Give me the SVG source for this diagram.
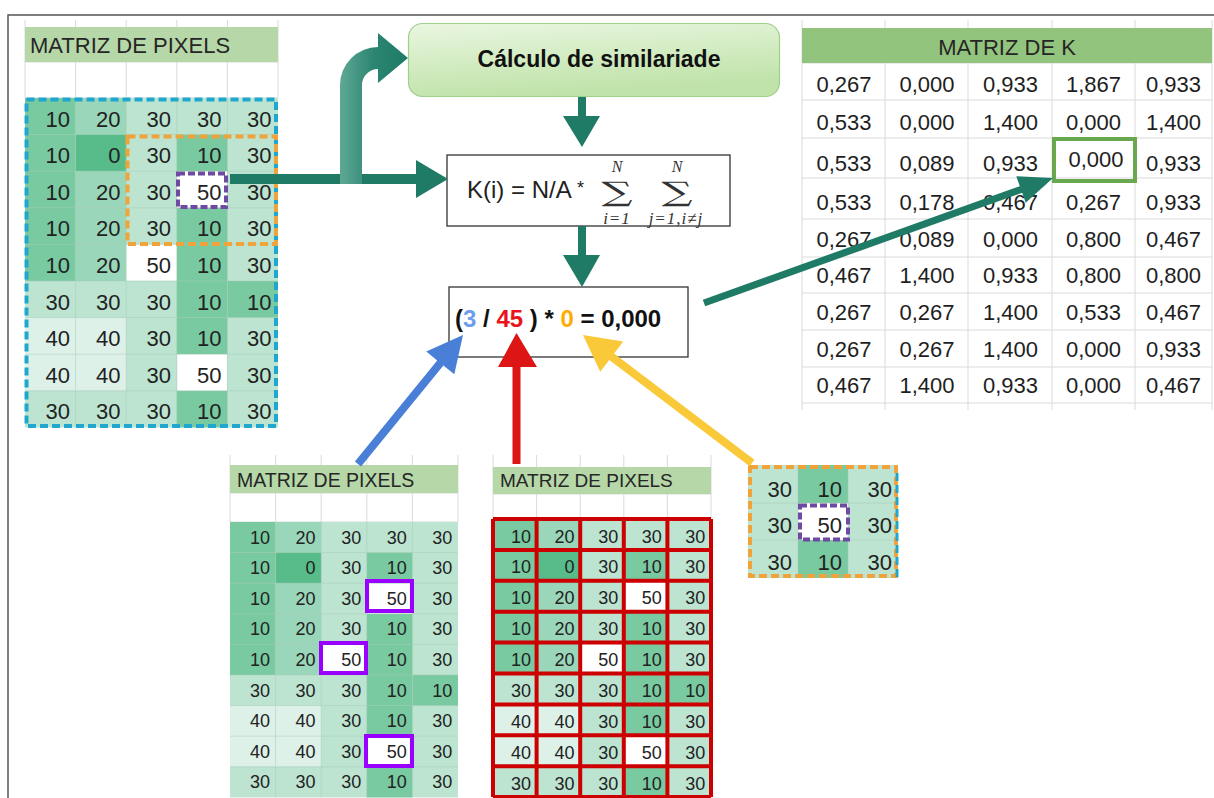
<svg xmlns="http://www.w3.org/2000/svg" xmlns:xlink="http://www.w3.org/1999/xlink" width="1214" height="798" viewBox="0 0 1214 798">
<style>
.c0{fill:#57bb8a}.c10{fill:#79c9a1}.c20{fill:#9ad6b9}.c30{fill:#bce4d0}.c40{fill:#ddf1e8}.c50{fill:#ffffff}
.grid{fill:none;stroke:#a9cdb9;stroke-width:1;stroke-opacity:.55}
.gray{fill:none;stroke:#dadada;stroke-width:1}
.n22{font-family:"Liberation Sans",Arial,sans-serif;font-size:22px;fill:#222;text-anchor:end}
.n18{font-family:"Liberation Sans",Arial,sans-serif;font-size:18px;fill:#222;text-anchor:end}
.k22{font-family:"Liberation Sans",Arial,sans-serif;font-size:22px;fill:#1e1e1e;text-anchor:middle}
.hdr{font-family:"Liberation Sans",Arial,sans-serif;fill:#262626}
.hdrbg{fill:#b6d7a8}
.box{fill:#fff;stroke:#333;stroke-width:1.3}
.math{font-family:"Liberation Serif","DejaVu Serif",serif;fill:#333;font-style:italic}
.sig{font-family:"DejaVu Serif",serif;font-size:27px;fill:#333;text-anchor:middle}
.teal{fill:#1f7b66}
</style>
<defs>
<g id="pxfill">
<rect class="c30" x="0" y="0" width="5" height="9"/>
<rect class="c10" x="0" y="0" width="1" height="5"/>
<rect class="c20" x="1" y="0" width="1" height="5"/>
<rect class="c0" x="1" y="1" width="1" height="1"/>
<rect class="c10" x="3" y="1" width="1" height="8"/>
<rect class="c50" x="3" y="2" width="1" height="1"/>
<rect class="c50" x="3" y="7" width="1" height="1"/>
<rect class="c50" x="2" y="4" width="1" height="1"/>
<rect class="c10" x="4" y="5" width="1" height="1"/>
<rect class="c40" x="0" y="6" width="2" height="2"/>
</g>
<path id="pxgrid" d="M1 0V9M2 0V9M3 0V9M4 0V9M0 1H5M0 2H5M0 3H5M0 4H5M0 5H5M0 6H5M0 7H5M0 8H5" vector-effect="non-scaling-stroke"/>
<linearGradient id="calcg" x1="0" y1="0" x2="0.3" y2="1">
<stop offset="0" stop-color="#eaf6e1"/>
<stop offset="1" stop-color="#bfe3a8"/>
</linearGradient>
<linearGradient id="bendg" x1="0" y1="0" x2="1" y2="0">
<stop offset="0" stop-color="#5ea895"/>
<stop offset="0.5" stop-color="#2b8570"/>
<stop offset="1" stop-color="#1f7b66"/>
</linearGradient>
</defs>

<path d="M8 798V15H1214" fill="none" stroke="#555" stroke-width="1.5"/>

<g id="matrix-pixels-main">
<path class="gray" d="M25 20V98M75.6 20V98M126.2 20V98M176.8 20V98M227.4 20V98M278 20V98M25 62H278M25 98H278"/>
<rect class="hdrbg" x="25" y="27" width="253" height="35"/>
<text class="hdr" x="30" y="53" font-size="22">MATRIZ DE PIXELS</text>
<use xlink:href="#pxfill" transform="translate(25,98) scale(50.6,36.6)"/>
<use xlink:href="#pxgrid" class="grid" transform="translate(25,98) scale(50.6,36.6)"/>
<text class="n22" y="126.5"><tspan x="70">10</tspan><tspan x="120.5">20</tspan><tspan x="171">30</tspan><tspan x="221.5">30</tspan><tspan x="271.5">30</tspan></text>
<text class="n22" y="163.1"><tspan x="70">10</tspan><tspan x="120.5">0</tspan><tspan x="171">30</tspan><tspan x="221.5">10</tspan><tspan x="271.5">30</tspan></text>
<text class="n22" y="199.7"><tspan x="70">10</tspan><tspan x="120.5">20</tspan><tspan x="171">30</tspan><tspan x="221.5">50</tspan><tspan x="271.5">30</tspan></text>
<text class="n22" y="236.3"><tspan x="70">10</tspan><tspan x="120.5">20</tspan><tspan x="171">30</tspan><tspan x="221.5">10</tspan><tspan x="271.5">30</tspan></text>
<text class="n22" y="272.9"><tspan x="70">10</tspan><tspan x="120.5">20</tspan><tspan x="171">50</tspan><tspan x="221.5">10</tspan><tspan x="271.5">30</tspan></text>
<text class="n22" y="309.5"><tspan x="70">30</tspan><tspan x="120.5">30</tspan><tspan x="171">30</tspan><tspan x="221.5">10</tspan><tspan x="271.5">10</tspan></text>
<text class="n22" y="346.1"><tspan x="70">40</tspan><tspan x="120.5">40</tspan><tspan x="171">30</tspan><tspan x="221.5">10</tspan><tspan x="271.5">30</tspan></text>
<text class="n22" y="382.7"><tspan x="70">40</tspan><tspan x="120.5">40</tspan><tspan x="171">30</tspan><tspan x="221.5">50</tspan><tspan x="271.5">30</tspan></text>
<text class="n22" y="419.3"><tspan x="70">30</tspan><tspan x="120.5">30</tspan><tspan x="171">30</tspan><tspan x="221.5">10</tspan><tspan x="271.5">30</tspan></text>
<rect x="26.5" y="99.5" width="249.5" height="326.5" fill="none" stroke="#1fa7cf" stroke-width="4" stroke-dasharray="8 4"/>
<rect x="127.5" y="136.5" width="148.5" height="107.5" fill="none" stroke="#f0a33a" stroke-width="4" stroke-dasharray="8 4"/>
<rect x="178" y="173.5" width="48" height="33.5" fill="none" stroke="#6f4aa2" stroke-width="4" stroke-dasharray="7 3"/>
</g>

<g id="calc-box">
<rect x="408.5" y="23.5" width="371" height="73" rx="14" fill="url(#calcg)" stroke="#9fd08a" stroke-width="1.2"/>
<text x="599" y="67" font-family="Liberation Sans, Arial, sans-serif" font-size="23" font-weight="bold" fill="#111" text-anchor="middle">Cálculo de similariade</text>
</g>

<g id="formula-box">
<rect class="box" x="447" y="155" width="283" height="71"/>
<text x="467" y="198" font-family="Liberation Sans, Arial, sans-serif" font-size="24" fill="#222">K(i) = N/A <tspan font-size="18" dy="-4">*</tspan></text>
<text class="math" x="617" y="172" font-size="16" text-anchor="middle">N</text>
<text class="sig" x="617" y="201" textLength="31" lengthAdjust="spacingAndGlyphs">∑</text>
<text class="math" x="617" y="224" font-size="17" text-anchor="middle" letter-spacing="1">i=1</text>
<text class="math" x="677" y="172" font-size="16" text-anchor="middle">N</text>
<text class="sig" x="677" y="201" textLength="31" lengthAdjust="spacingAndGlyphs">∑</text>
<text class="math" x="676" y="224" font-size="17" text-anchor="middle" letter-spacing="1">j=1,i≠j</text>
</g>

<g id="result-box">
<rect class="box" x="449" y="287" width="239" height="70"/>
<text x="455" y="327" font-family="Liberation Sans, Arial, sans-serif" font-size="24" font-weight="bold" fill="#111">(<tspan fill="#6d9eeb">3</tspan> / <tspan fill="#e8141b">45</tspan> ) * <tspan fill="#ffab00">0</tspan> = 0,000</text>
</g>

<g id="matrix-k">
<path class="gray" d="M802 20V410M885 20V410M968 20V410M1052 20V410M1135 20V410M1212 20V410M802 63H1212M802 100H1212M802 138H1212M802 178H1212M802 219H1212M802 257H1212M802 293H1212M802 330H1212M802 367H1212M802 403H1212"/>
<rect x="802" y="28" width="410" height="35" fill="#93c47d"/>
<text class="hdr" x="1007" y="55" font-size="22" text-anchor="middle">MATRIZ DE K</text>
<text class="k22" y="92"><tspan x="844">0,267</tspan><tspan x="927">0,000</tspan><tspan x="1010.5">0,933</tspan><tspan x="1093.5">1,867</tspan><tspan x="1173.5">0,933</tspan></text>
<text class="k22" y="130"><tspan x="844">0,533</tspan><tspan x="927">0,000</tspan><tspan x="1010.5">1,400</tspan><tspan x="1093.5">0,000</tspan><tspan x="1173.5">1,400</tspan></text>
<text class="k22" y="171"><tspan x="844">0,533</tspan><tspan x="927">0,089</tspan><tspan x="1010.5">0,933</tspan><tspan x="1173.5">0,933</tspan></text>
<text class="k22" x="1096" y="167">0,000</text>
<text class="k22" y="210"><tspan x="844">0,533</tspan><tspan x="927">0,178</tspan><tspan x="1010.5">0,467</tspan><tspan x="1093.5">0,267</tspan><tspan x="1173.5">0,933</tspan></text>
<text class="k22" y="247"><tspan x="844">0,267</tspan><tspan x="927">0,089</tspan><tspan x="1010.5">0,000</tspan><tspan x="1093.5">0,800</tspan><tspan x="1173.5">0,467</tspan></text>
<text class="k22" y="283"><tspan x="844">0,467</tspan><tspan x="927">1,400</tspan><tspan x="1010.5">0,933</tspan><tspan x="1093.5">0,800</tspan><tspan x="1173.5">0,800</tspan></text>
<text class="k22" y="320"><tspan x="844">0,267</tspan><tspan x="927">0,267</tspan><tspan x="1010.5">1,400</tspan><tspan x="1093.5">0,533</tspan><tspan x="1173.5">0,467</tspan></text>
<text class="k22" y="357"><tspan x="844">0,267</tspan><tspan x="927">0,267</tspan><tspan x="1010.5">1,400</tspan><tspan x="1093.5">0,000</tspan><tspan x="1173.5">0,933</tspan></text>
<text class="k22" y="393"><tspan x="844">0,467</tspan><tspan x="927">1,400</tspan><tspan x="1010.5">0,933</tspan><tspan x="1093.5">0,000</tspan><tspan x="1173.5">0,467</tspan></text>
<rect x="1054" y="139" width="81" height="42" fill="none" stroke="#6aa84f" stroke-width="4"/>
</g>

<g id="matrix-pixels-blue">
<path class="gray" d="M230 455V522M275.6 455V522M321.2 455V522M366.8 455V522M412.4 455V522M458 455V522M230 493H458M230 522H458"/>
<rect class="hdrbg" x="230" y="465" width="228" height="28"/>
<text class="hdr" x="237" y="487" font-size="19.5">MATRIZ DE PIXELS</text>
<use xlink:href="#pxfill" transform="translate(230,522) scale(45.6,30.6)"/>
<use xlink:href="#pxgrid" class="grid" transform="translate(230,522) scale(45.6,30.6)"/>
<text class="n18" y="543.5"><tspan x="270">10</tspan><tspan x="315.6">20</tspan><tspan x="361.2">30</tspan><tspan x="406.8">30</tspan><tspan x="452.4">30</tspan></text>
<text class="n18" y="574.1"><tspan x="270">10</tspan><tspan x="315.6">0</tspan><tspan x="361.2">30</tspan><tspan x="406.8">10</tspan><tspan x="452.4">30</tspan></text>
<text class="n18" y="604.7"><tspan x="270">10</tspan><tspan x="315.6">20</tspan><tspan x="361.2">30</tspan><tspan x="406.8">50</tspan><tspan x="452.4">30</tspan></text>
<text class="n18" y="635.3"><tspan x="270">10</tspan><tspan x="315.6">20</tspan><tspan x="361.2">30</tspan><tspan x="406.8">10</tspan><tspan x="452.4">30</tspan></text>
<text class="n18" y="665.9"><tspan x="270">10</tspan><tspan x="315.6">20</tspan><tspan x="361.2">50</tspan><tspan x="406.8">10</tspan><tspan x="452.4">30</tspan></text>
<text class="n18" y="696.5"><tspan x="270">30</tspan><tspan x="315.6">30</tspan><tspan x="361.2">30</tspan><tspan x="406.8">10</tspan><tspan x="452.4">10</tspan></text>
<text class="n18" y="727.1"><tspan x="270">40</tspan><tspan x="315.6">40</tspan><tspan x="361.2">30</tspan><tspan x="406.8">10</tspan><tspan x="452.4">30</tspan></text>
<text class="n18" y="757.7"><tspan x="270">40</tspan><tspan x="315.6">40</tspan><tspan x="361.2">30</tspan><tspan x="406.8">50</tspan><tspan x="452.4">30</tspan></text>
<text class="n18" y="788.3"><tspan x="270">30</tspan><tspan x="315.6">30</tspan><tspan x="361.2">30</tspan><tspan x="406.8">10</tspan><tspan x="452.4">30</tspan></text>
<rect x="367" y="581" width="45" height="30" fill="none" stroke="#9900ff" stroke-width="4"/>
<rect x="321" y="643" width="45" height="30" fill="none" stroke="#9900ff" stroke-width="4"/>
<rect x="366" y="736" width="46" height="30" fill="none" stroke="#9900ff" stroke-width="4"/>
</g>

<g id="matrix-pixels-red">
<path class="gray" d="M493 455V519M536.6 455V519M580.2 455V519M623.8 455V519M667.4 455V519M711 455V519M493 494H711"/>
<rect class="hdrbg" x="493" y="467" width="218" height="27"/>
<text class="hdr" x="500" y="487" font-size="19">MATRIZ DE PIXELS</text>
<use xlink:href="#pxfill" transform="translate(493,519) scale(43.6,30.9)"/>
<text class="n18" y="542.5"><tspan x="531">10</tspan><tspan x="574.6">20</tspan><tspan x="618.2">30</tspan><tspan x="661.8">30</tspan><tspan x="705.4">30</tspan></text>
<text class="n18" y="573.4"><tspan x="531">10</tspan><tspan x="574.6">0</tspan><tspan x="618.2">30</tspan><tspan x="661.8">10</tspan><tspan x="705.4">30</tspan></text>
<text class="n18" y="604.3"><tspan x="531">10</tspan><tspan x="574.6">20</tspan><tspan x="618.2">30</tspan><tspan x="661.8">50</tspan><tspan x="705.4">30</tspan></text>
<text class="n18" y="635.2"><tspan x="531">10</tspan><tspan x="574.6">20</tspan><tspan x="618.2">30</tspan><tspan x="661.8">10</tspan><tspan x="705.4">30</tspan></text>
<text class="n18" y="666.1"><tspan x="531">10</tspan><tspan x="574.6">20</tspan><tspan x="618.2">50</tspan><tspan x="661.8">10</tspan><tspan x="705.4">30</tspan></text>
<text class="n18" y="697"><tspan x="531">30</tspan><tspan x="574.6">30</tspan><tspan x="618.2">30</tspan><tspan x="661.8">10</tspan><tspan x="705.4">10</tspan></text>
<text class="n18" y="727.9"><tspan x="531">40</tspan><tspan x="574.6">40</tspan><tspan x="618.2">30</tspan><tspan x="661.8">10</tspan><tspan x="705.4">30</tspan></text>
<text class="n18" y="758.8"><tspan x="531">40</tspan><tspan x="574.6">40</tspan><tspan x="618.2">30</tspan><tspan x="661.8">50</tspan><tspan x="705.4">30</tspan></text>
<text class="n18" y="789.7"><tspan x="531">30</tspan><tspan x="574.6">30</tspan><tspan x="618.2">30</tspan><tspan x="661.8">10</tspan><tspan x="705.4">30</tspan></text>
<path d="M0 0V9M1 0V9M2 0V9M3 0V9M4 0V9M5 0V9M0 0H5M0 1H5M0 2H5M0 3H5M0 4H5M0 5H5M0 6H5M0 7H5M0 8H5M0 9H5" transform="translate(493,519) scale(43.6,30.9)" fill="none" stroke="#cc0000" stroke-width="4" vector-effect="non-scaling-stroke"/>
</g>

<g id="neighborhood">
<rect class="c30" x="748" y="465" width="150" height="113"/>
<rect class="c10" x="798" y="465" width="50" height="113"/>
<rect class="c50" x="798" y="503" width="50" height="37"/>
<path class="grid" d="M798 465V578M848 465V578M748 503H898M748 540H898"/>
<text class="n22" y="497"><tspan x="792">30</tspan><tspan x="842">10</tspan><tspan x="892">30</tspan></text>
<text class="n22" y="533"><tspan x="792">30</tspan><tspan x="842">50</tspan><tspan x="892">30</tspan></text>
<text class="n22" y="570"><tspan x="792">30</tspan><tspan x="842">10</tspan><tspan x="892">30</tspan></text>
<rect x="750" y="467" width="146" height="109" fill="none" stroke="#f0a33a" stroke-width="4" stroke-dasharray="8 4"/>
<path d="M897 473V578" fill="none" stroke="#1fa7cf" stroke-width="3" stroke-dasharray="8 4"/>
<rect x="800" y="505.5" width="48" height="34" fill="none" stroke="#6f4aa2" stroke-width="4" stroke-dasharray="7 3"/>
</g>

<g id="connectors">
<path class="teal" d="M230 174H416V160L448 179L416 198V184H230Z"/>
<path fill="url(#bendg)" d="M340 184V85A38 38 0 0 1 378 47V33L408 58L378 83V69A16 16 0 0 0 362 85V184Z"/>
<path class="teal" d="M578 97H586V116H600L582 147L563 116H578Z"/>
<path class="teal" d="M578 226H586V255H600L582 287L563 255H578Z"/>
<path class="teal" d="M705.2 306.3L1022.2 192.8L1025.7 202.7L1053 178L1016.3 176.3L1019.8 186.2L702.8 299.7Z"/>
<path fill="#4a7fd8" d="M361.1 466.5L443.4 365.4L454.3 374.3L463 335L426.3 351.5L437.2 360.4L354.9 461.5Z"/>
<path fill="#dd1515" d="M512.5 464V367H498L516.5 333L537 367H520.5V464Z"/>
<path fill="#f9c93a" d="M754.4 459.8L614.1 353.5L623.2 341.6L583 335L600.2 371.8L609.3 359.9L749.6 466.2Z"/>
</g>
</svg>
